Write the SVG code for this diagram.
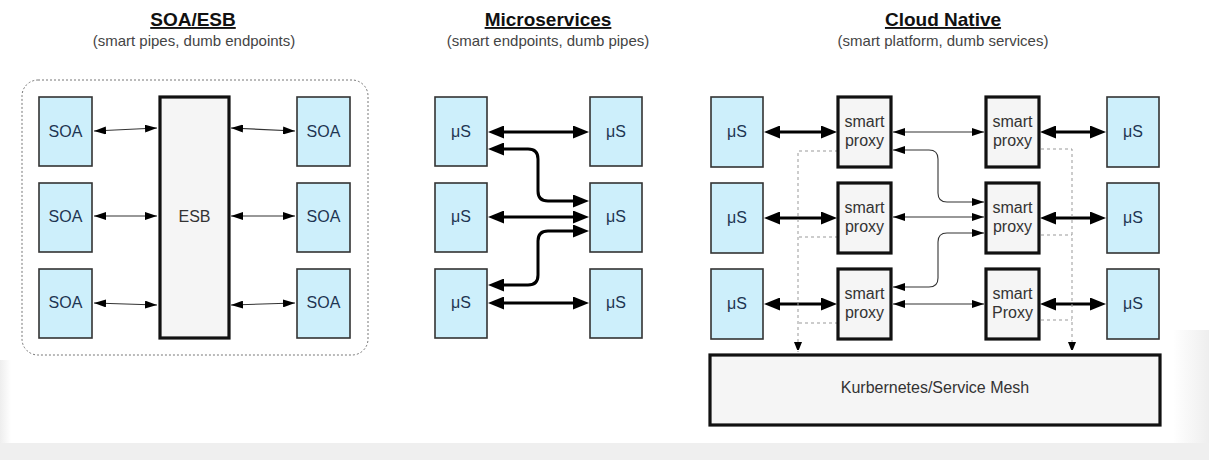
<svg xmlns="http://www.w3.org/2000/svg" width="1209" height="460" viewBox="0 0 1209 460">
<style>
text{font-family:"Liberation Sans",Arial,sans-serif}
.title{font-size:19px;font-weight:bold;fill:#111;text-anchor:middle;text-decoration:underline}
.sub{font-size:15px;fill:#444;text-anchor:middle}
.blue{fill:#cdeffb;stroke:#333;stroke-width:1.6}
.gray{fill:#f5f5f5;stroke:#111;stroke-width:3.2}
.lbl{font-size:16px;fill:#1e3552;text-anchor:middle}
.plbl{font-size:16px;fill:#333;text-anchor:middle}
.thin{fill:none;stroke:#333;stroke-width:1.1;marker-start:url(#ah);marker-end:url(#ah)}
.thick{fill:none;stroke:#000;stroke-width:3;marker-start:url(#AH);marker-end:url(#AH)}
.dash{fill:none;stroke:#999;stroke-width:1;stroke-dasharray:3,3}
</style>
<defs>
<marker id="ah" markerUnits="userSpaceOnUse" markerWidth="12" markerHeight="8" refX="12" refY="4" orient="auto-start-reverse"><path d="M0,0 L12,4 L0,8 z" fill="#000"/></marker>
<marker id="AH" markerUnits="userSpaceOnUse" markerWidth="16" markerHeight="13" refX="11" refY="6.5" orient="auto-start-reverse"><path d="M0,0 L16,6.5 L0,13 z" fill="#000"/></marker>
<marker id="dh" markerUnits="userSpaceOnUse" markerWidth="8" markerHeight="10" refX="10" refY="4" orient="auto"><path d="M0,0 L10,4 L0,8 z" fill="#000"/></marker>
<linearGradient id="gr" x1="0" y1="0" x2="1" y2="0"><stop offset="0" stop-color="#fff"/><stop offset="1" stop-color="#eee"/></linearGradient>
<linearGradient id="gl" x1="1" y1="0" x2="0" y2="0"><stop offset="0" stop-color="#fff"/><stop offset="1" stop-color="#eee"/></linearGradient>
</defs>
<rect width="1209" height="460" fill="#fff"/>
<rect x="1173" y="330" width="36" height="113" fill="url(#gr)"/>
<rect x="0" y="360" width="11" height="83" fill="url(#gl)"/>
<rect x="0" y="443" width="1209" height="17" fill="#efefef"/>

<g id="titles">
<text class="title" x="193" y="26">SOA/ESB</text>
<text class="sub" x="194" y="46">(smart pipes, dumb endpoints)</text>
<text class="title" x="548" y="26">Microservices</text>
<text class="sub" x="548" y="46">(smart endpoints, dumb pipes)</text>
<text class="title" x="943" y="26">Cloud Native</text>
<text class="sub" x="943" y="46">(smart platform, dumb services)</text>
</g>

<g id="soa-container"><rect x="22" y="80" width="346" height="275" rx="16" fill="none" stroke="#777" stroke-width="1" stroke-dasharray="2,2"/></g>

<g id="connectors">
<path class="thin" d="M94,131 L157,128"/>
<path class="thin" d="M94,216 L157,216"/>
<path class="thin" d="M94,303 L157,305"/>
<path class="thin" d="M231,128 L295,131"/>
<path class="thin" d="M231,216 L295,216"/>
<path class="thin" d="M231,305 L295,303"/>

<path class="thick" d="M493,132 H584"/>
<path class="thick" d="M493,149 H528 Q538,149 538,159 V191 Q538,201 548,201 H584"/>
<path class="thick" d="M493,217 H584"/>
<path class="thick" d="M584,231 H548 Q538,231 538,241 V275 Q538,285 528,285 H493"/>
<path class="thick" d="M493,303 H584"/>

<path class="thick" d="M769,132 H832"/>
<path class="thick" d="M769,218 H832"/>
<path class="thick" d="M769,304 H832"/>
<path class="thick" d="M1045,132 H1101"/>
<path class="thick" d="M1045,218 H1101"/>
<path class="thick" d="M1045,304 H1101"/>

<path class="thin" d="M893,132 H984"/>
<path class="thin" d="M893,150 H929 Q938,150 938,159 V193 Q938,202 947,202 H984"/>
<path class="thin" d="M893,217 H984"/>
<path class="thin" d="M984,233 H947 Q938,233 938,242 V278 Q938,287 929,287 H893"/>
<path class="thin" d="M893,304 H984"/>

<path class="dash" d="M838,151 H798 V352" marker-end="url(#dh)"/>
<path class="dash" d="M838,237 H798"/>
<path class="dash" d="M838,323 H798"/>
<path class="dash" d="M1041,149 H1072 V352" marker-end="url(#dh)"/>
<path class="dash" d="M1041,235 H1072"/>
<path class="dash" d="M1041,320 H1072"/>
</g>

<g id="soa-l1"><rect class="blue" x="39" y="97" width="53" height="69"/><text class="lbl" x="65.5" y="137">SOA</text></g>
<g id="soa-l2"><rect class="blue" x="39" y="183" width="53" height="69"/><text class="lbl" x="65.5" y="222">SOA</text></g>
<g id="soa-l3"><rect class="blue" x="39" y="269" width="53" height="69"/><text class="lbl" x="65.5" y="308">SOA</text></g>
<g id="soa-r1"><rect class="blue" x="297" y="97" width="53" height="69"/><text class="lbl" x="323.5" y="137">SOA</text></g>
<g id="soa-r2"><rect class="blue" x="297" y="183" width="53" height="69"/><text class="lbl" x="323.5" y="222">SOA</text></g>
<g id="soa-r3"><rect class="blue" x="297" y="269" width="53" height="69"/><text class="lbl" x="323.5" y="308">SOA</text></g>
<g id="esb"><rect class="gray" x="160" y="97" width="69" height="241"/><text class="plbl" x="194.5" y="222">ESB</text></g>

<g id="ms-l1"><rect class="blue" x="435" y="97" width="52" height="69"/><text class="lbl" x="461" y="137">μS</text></g>
<g id="ms-l2"><rect class="blue" x="435" y="183" width="52" height="69"/><text class="lbl" x="461" y="222">μS</text></g>
<g id="ms-l3"><rect class="blue" x="435" y="269" width="52" height="69"/><text class="lbl" x="461" y="308">μS</text></g>
<g id="ms-r1"><rect class="blue" x="590" y="97" width="52" height="69"/><text class="lbl" x="616" y="137">μS</text></g>
<g id="ms-r2"><rect class="blue" x="590" y="183" width="52" height="69"/><text class="lbl" x="616" y="222">μS</text></g>
<g id="ms-r3"><rect class="blue" x="590" y="269" width="52" height="69"/><text class="lbl" x="616" y="308">μS</text></g>

<g id="cn-l1"><rect class="blue" x="711" y="97" width="52" height="70"/><text class="lbl" x="737" y="137">μS</text></g>
<g id="cn-l2"><rect class="blue" x="711" y="183" width="52" height="70"/><text class="lbl" x="737" y="223">μS</text></g>
<g id="cn-l3"><rect class="blue" x="711" y="269" width="52" height="70"/><text class="lbl" x="737" y="309">μS</text></g>
<g id="cn-r1"><rect class="blue" x="1107" y="97" width="52" height="70"/><text class="lbl" x="1133" y="137">μS</text></g>
<g id="cn-r2"><rect class="blue" x="1107" y="183" width="52" height="70"/><text class="lbl" x="1133" y="223">μS</text></g>
<g id="cn-r3"><rect class="blue" x="1107" y="269" width="52" height="70"/><text class="lbl" x="1133" y="309">μS</text></g>

<g id="proxy-l1"><rect class="gray" x="838" y="97" width="53" height="70"/><text class="plbl" x="864.5" y="127">smart</text><text class="plbl" x="864.5" y="146">proxy</text></g>
<g id="proxy-l2"><rect class="gray" x="838" y="183" width="53" height="70"/><text class="plbl" x="864.5" y="213">smart</text><text class="plbl" x="864.5" y="232">proxy</text></g>
<g id="proxy-l3"><rect class="gray" x="838" y="269" width="53" height="70"/><text class="plbl" x="864.5" y="299">smart</text><text class="plbl" x="864.5" y="318">proxy</text></g>
<g id="proxy-r1"><rect class="gray" x="986" y="97" width="53" height="70"/><text class="plbl" x="1012.5" y="127">smart</text><text class="plbl" x="1012.5" y="146">proxy</text></g>
<g id="proxy-r2"><rect class="gray" x="986" y="183" width="53" height="70"/><text class="plbl" x="1012.5" y="213">smart</text><text class="plbl" x="1012.5" y="232">proxy</text></g>
<g id="proxy-r3"><rect class="gray" x="986" y="269" width="53" height="70"/><text class="plbl" x="1012.5" y="299">smart</text><text class="plbl" x="1012.5" y="318">Proxy</text></g>

<g id="mesh"><rect class="gray" x="710" y="355" width="450" height="70"/><text class="plbl" x="935" y="393">Kurbernetes/Service Mesh</text></g>
</svg>
